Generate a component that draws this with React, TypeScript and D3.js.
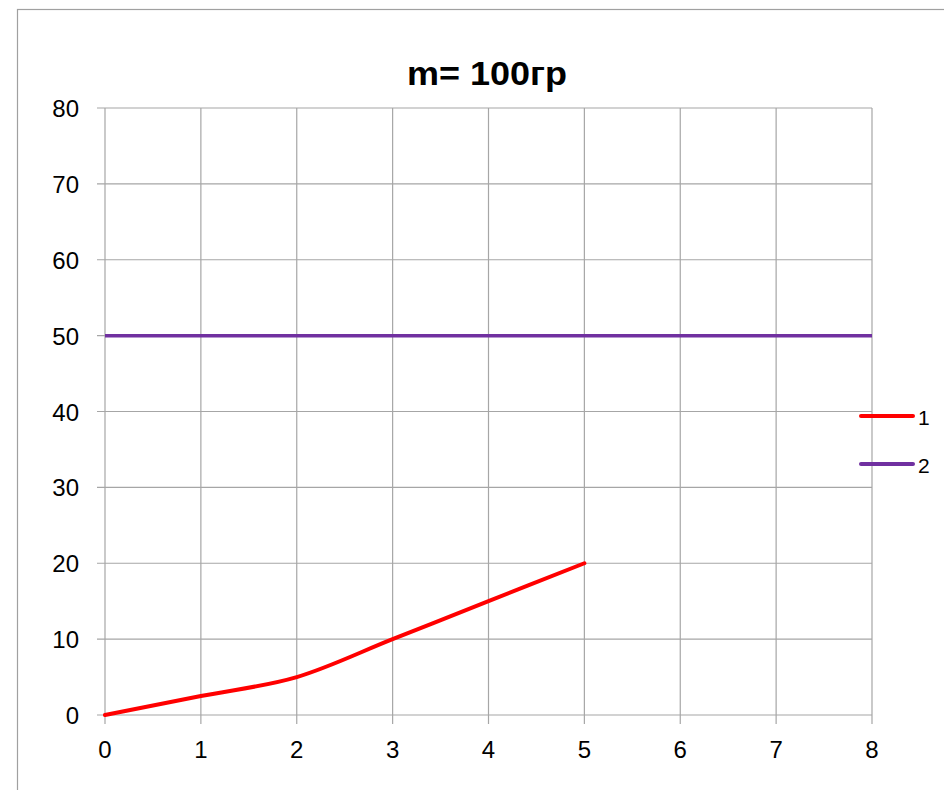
import React from "react";
import * as d3 from "d3";

const title = "m= 100гр";
const series1X = [0, 1, 2, 3, 4, 5];
const series1Y = [0, 2.5, 5, 10, 15, 20];
const series2X = [0, 8];
const series2Y = [50, 50];
const xTicks = [0, 1, 2, 3, 4, 5, 6, 7, 8];
const yTicks = [0, 10, 20, 30, 40, 50, 60, 70, 80];
const legendLabels = ["1", "2"];
const colors = ["#ff0000", "#7030a0"];

const W = 944;
const H = 790;
const font = "'Liberation Sans', Arial, sans-serif";

export default function App() {
  const x = d3.scaleLinear().domain([0, 8]).range([105, 872]);
  const y = d3.scaleLinear().domain([0, 80]).range([715, 108]);
  const line = d3
    .line<[number, number]>()
    .x((d) => x(d[0]))
    .y((d) => y(d[1]))
    .curve(d3.curveCardinal.tension(0));
  const s1 = series1X.map((v, i) => [v, series1Y[i]] as [number, number]);
  const s2 = series2X.map((v, i) => [v, series2Y[i]] as [number, number]);
  const grid = "#a6a6a6";

  return (
    <svg
      width={W}
      height={H}
      style={{ position: "absolute", left: 0, top: 0, background: "#fff" }}
    >
      <rect x={17.5} y={9.5} width={W} height={H} fill="#fff" stroke="#a0a0a0" strokeWidth={1.2} />
      <text
        x={407}
        y={85}
        fontFamily={font}
        fontWeight="bold"
        fontSize={34}
        fill="#000"
        textLength={160}
        lengthAdjust="spacingAndGlyphs"
      >
        {title}
      </text>
      {xTicks.map((t) => (
        <line key={"gx" + t} x1={x(t)} x2={x(t)} y1={y(80)} y2={y(0) + 9} stroke={grid} strokeWidth={1.2} />
      ))}
      {yTicks.map((t) => (
        <line key={"gy" + t} x1={x(0) - 8} x2={x(8)} y1={y(t)} y2={y(t)} stroke={grid} strokeWidth={1.2} />
      ))}
      {yTicks.map((t) => (
        <text
          key={"ly" + t}
          x={79}
          y={y(t) + 9}
          textAnchor="end"
          fontFamily={font}
          fontSize={24}
          fill="#000"
        >
          {t}
        </text>
      ))}
      {xTicks.map((t) => (
        <text
          key={"lx" + t}
          x={x(t)}
          y={758}
          textAnchor="middle"
          fontFamily={font}
          fontSize={24}
          fill="#000"
        >
          {t}
        </text>
      ))}
      <path d={line(s2) || ""} fill="none" stroke={colors[1]} strokeWidth={3.5} />
      <path d={line(s1) || ""} fill="none" stroke={colors[0]} strokeWidth={4} strokeLinecap="round" />
      {legendLabels.map((l, i) => (
        <g key={l}>
          <line
            x1={861}
            x2={913}
            y1={416 + i * 48}
            y2={416 + i * 48}
            stroke={colors[i]}
            strokeWidth={4}
            strokeLinecap="round"
          />
          <text x={918} y={425 + i * 48} fontFamily={font} fontSize={21} fill="#000">
            {l}
          </text>
        </g>
      ))}
    </svg>
  );
}
